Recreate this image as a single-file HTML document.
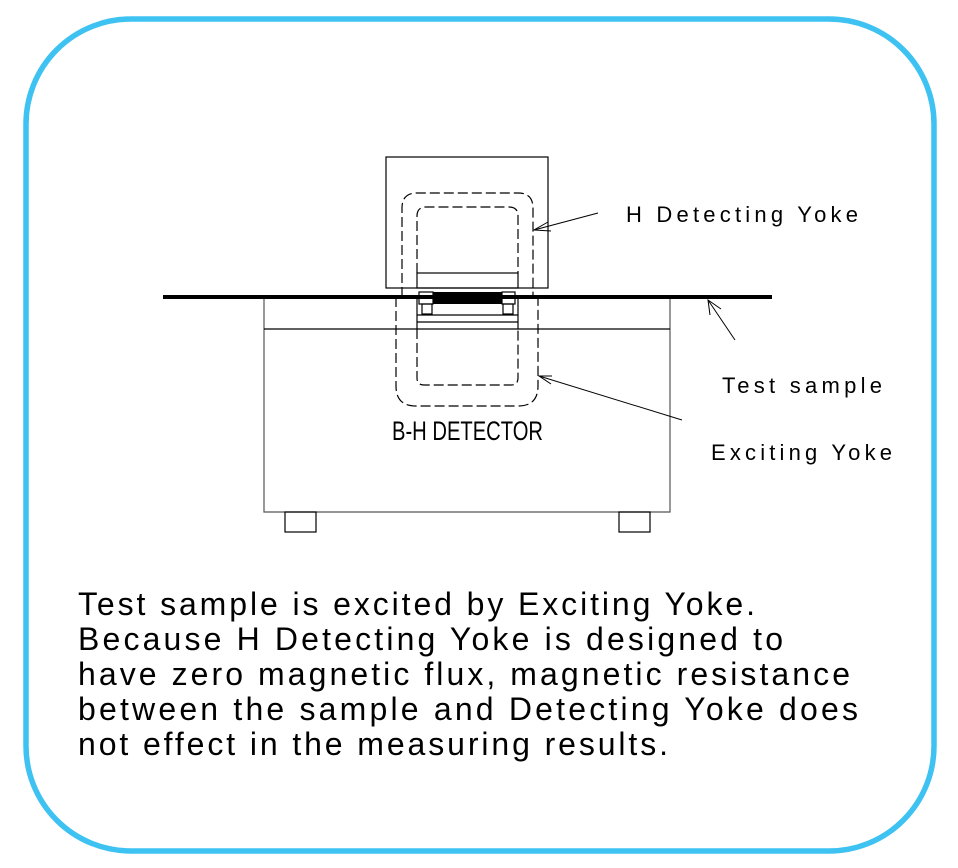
<!DOCTYPE html>
<html><head><meta charset="utf-8"><style>html,body{margin:0;padding:0;background:#fff}svg{display:block}</style></head>
<body>
<svg width="958" height="868" viewBox="0 0 958 868" xmlns="http://www.w3.org/2000/svg" font-family="Liberation Sans, Arial, sans-serif">
<rect x="26" y="19" width="908" height="832" rx="105" ry="105" fill="#fff" stroke="#3ec2f2" stroke-width="5.5"/>
<g fill="none" stroke="#000" stroke-width="1.2">
<rect x="386" y="157" width="162" height="131"/>
<rect x="417" y="273" width="101" height="15"/>
<polyline points="264,297 264,512 670,512 670,297" stroke="#555"/>
<line x1="264" y1="329" x2="670" y2="329"/>
<rect x="285" y="512" width="31" height="20"/>
<rect x="619" y="512" width="31" height="20"/>
<rect x="419" y="292" width="14" height="12"/>
<rect x="502" y="292" width="13" height="12"/>
<rect x="422" y="304" width="10" height="10"/>
<rect x="503" y="304" width="10" height="10"/>
<line x1="417" y1="315" x2="518" y2="315"/>
<line x1="417" y1="322" x2="518" y2="322"/>
<line x1="417" y1="297" x2="417" y2="329"/>
<line x1="518" y1="297" x2="518" y2="329"/>
</g>
<rect x="433" y="292" width="69" height="12" fill="#000"/>
<line x1="163" y1="297" x2="772" y2="297" stroke="#000" stroke-width="4"/>
<g fill="none" stroke="#000" stroke-width="1.2" stroke-dasharray="10,4">
<path d="M402,297 V208 Q402,193 417,193 H518 Q533,193 533,208 V297"/>
<path d="M417,273 V216 Q417,207 426,207 H509 Q518,207 518,216 V273"/>
<path d="M396,297 V386 Q396,406 416,406 H518 Q538,406 538,386 V297"/>
<path d="M417,329 V378 Q417,385 424,385 H511 Q518,385 518,378 V329"/>
</g>
<g fill="none" stroke="#000" stroke-width="1">
<line x1="598" y1="213" x2="534" y2="230"/>
<polyline points="548,222 534,230 551,231"/>
<line x1="735" y1="340" x2="708" y2="300"/>
<polyline points="710,315 708,300 721,309"/>
<line x1="682" y1="420" x2="539" y2="376"/>
<polyline points="552,376 539,376 551,384"/>
</g>
<g fill="#000">
<text x="626" y="222" font-size="22" textLength="232" lengthAdjust="spacing">H Detecting Yoke</text>
<text x="722" y="393" font-size="22" textLength="160" lengthAdjust="spacing">Test sample</text>
<text x="711" y="460" font-size="22" textLength="181" lengthAdjust="spacing">Exciting Yoke</text>
<text x="392" y="440" font-size="27" textLength="151" lengthAdjust="spacingAndGlyphs">B-H DETECTOR</text>
<g font-size="32">
<text x="78" y="615" textLength="677" lengthAdjust="spacing">Test sample is excited by Exciting Yoke.</text>
<text x="78" y="650" textLength="705" lengthAdjust="spacing">Because H Detecting Yoke is designed to</text>
<text x="78" y="685" textLength="772" lengthAdjust="spacing">have zero magnetic flux, magnetic resistance</text>
<text x="78" y="720" textLength="780" lengthAdjust="spacing">between the sample and Detecting Yoke does</text>
<text x="78" y="755" textLength="590" lengthAdjust="spacing">not effect in the measuring results.</text>
</g>
</g>
</svg>
</body></html>
